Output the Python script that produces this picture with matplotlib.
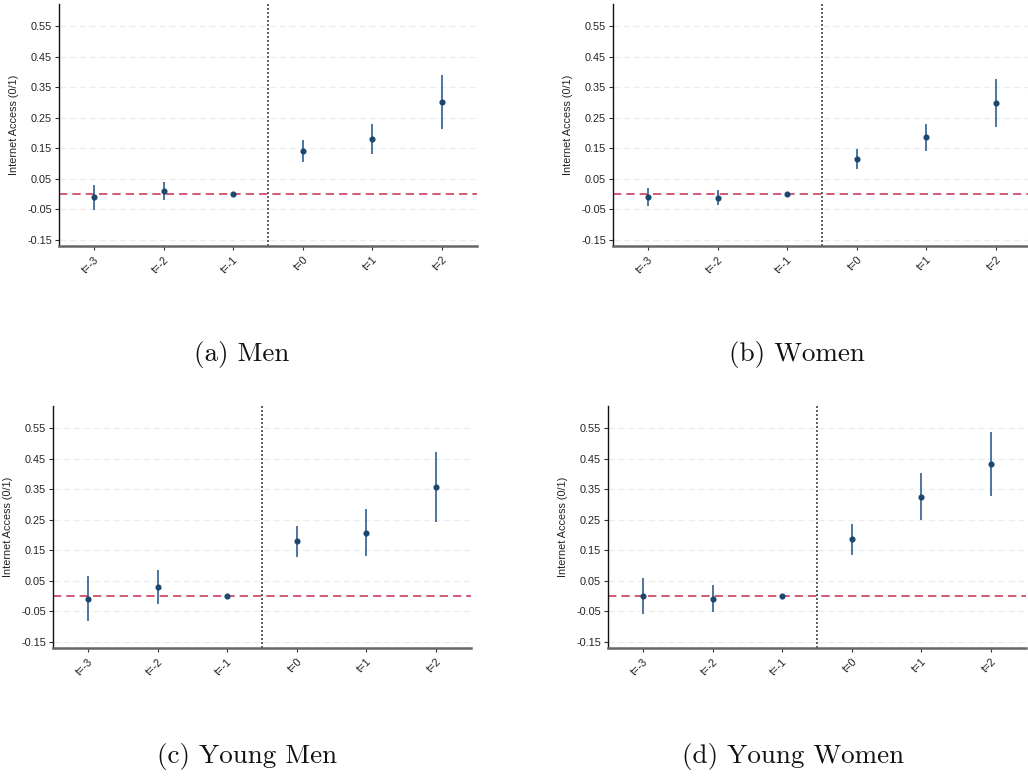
import matplotlib
matplotlib.use("Agg")
import matplotlib.pyplot as plt
import numpy as np

# ---- data ----
periods = ["t=-3", "t=-2", "t=-1", "t=0", "t=1", "t=2"]
ytick_vals = [-0.15, -0.05, 0.05, 0.15, 0.25, 0.35, 0.45, 0.55]
ytick_labels = ["-0.15", "-0.05", "0.05", "0.15", "0.25", "0.35", "0.45", "0.55"]

men_est = [-0.011, 0.009, 0.0, 0.141, 0.179, 0.301]
men_lo = [-0.051, -0.021, 0.0, 0.105, 0.131, 0.213]
men_hi = [0.029, 0.039, 0.0, 0.178, 0.228, 0.391]

women_est = [-0.009, -0.013, 0.0, 0.115, 0.186, 0.299]
women_lo = [-0.040, -0.036, 0.0, 0.083, 0.142, 0.221]
women_hi = [0.021, 0.013, 0.0, 0.147, 0.228, 0.378]

ymen_est = [-0.008, 0.029, 0.0, 0.179, 0.208, 0.357]
ymen_lo = [-0.082, -0.027, 0.0, 0.127, 0.131, 0.242]
ymen_hi = [0.067, 0.084, 0.0, 0.229, 0.286, 0.472]

ywomen_est = [-0.001, -0.009, 0.0, 0.186, 0.325, 0.432]
ywomen_lo = [-0.060, -0.051, 0.0, 0.136, 0.248, 0.326]
ywomen_hi = [0.059, 0.035, 0.0, 0.236, 0.402, 0.538]

captions = ["(a) Men", "(b) Women", "(c) Young Men", "(d) Young Women"]
ylabel = "Internet Access (0/1)"

W, H = 1028, 778
fig = plt.figure(figsize=(W / 100, H / 100), dpi=100)

# axes boxes in pixels: left, right, top, bottom
boxes = [(59, 477, 4, 246), (613, 1031, 4, 246), (53, 471, 406, 648), (608, 1026, 406, 648)]
caption_pos = [(242, 355), (797, 355), (247, 757), (793, 757)]
series = [(men_est, men_lo, men_hi), (women_est, women_lo, women_hi),
          (ymen_est, ymen_lo, ymen_hi), (ywomen_est, ywomen_lo, ywomen_hi)]

sans = ["Liberation Sans", "DejaVu Sans"]
x = np.arange(1, len(periods) + 1)

for (l, r, t, b), (est, lo, hi), cap, (cx, cy) in zip(boxes, series, captions, caption_pos):
    ax = fig.add_axes([l / W, 1 - b / H, (r - l) / W, (b - t) / H])
    ax.set_xlim(0.5, 6.5)
    ax.set_ylim(-0.17, 0.622)
    for yv in ytick_vals:
        ax.axhline(yv, color="#ececec", lw=0.9, ls=(0, (5, 3)), zorder=0)
    ax.axhline(0, color="#cc3d5e", lw=1.2, ls=(0, (5, 3)), zorder=2)
    ax.axvline(3.5, color="#444444", lw=1.2, ls=(0, (1.2, 1.2)), zorder=2)
    est = np.array(est); lo = np.array(lo); hi = np.array(hi)
    ax.vlines(x, lo, hi, color="#2f5f8c", lw=1.2, zorder=3)
    ax.plot(x, est, "o", color="#1a476f", ms=3.4, zorder=4)
    ax.set_xticks(x)
    ax.set_xticklabels(periods, rotation=45, ha="right", rotation_mode="anchor",
                       fontsize=7.8, family=sans, color="#222222")
    ax.set_yticks(ytick_vals)
    ax.set_yticklabels(ytick_labels, fontsize=7.8, family=sans, color="#222222")
    ax.set_ylabel(ylabel, fontsize=7.8, family=sans, color="#222222", labelpad=6)
    ax.tick_params(axis="both", length=3, width=0.8, color="#333333", pad=2)
    ax.tick_params(axis="x", pad=3)
    for s in ["top", "right"]:
        ax.spines[s].set_visible(False)
    ax.spines["left"].set_color("#111111")
    ax.spines["left"].set_linewidth(1.0)
    ax.spines["bottom"].set_color("#666666")
    ax.spines["bottom"].set_linewidth(1.8)
    fig.text(cx / W, 1 - cy / H, cap, ha="center", va="center",
             fontsize=19.5, family="cmr10", color="#111111")

fig.savefig("out.png", dpi=100)
